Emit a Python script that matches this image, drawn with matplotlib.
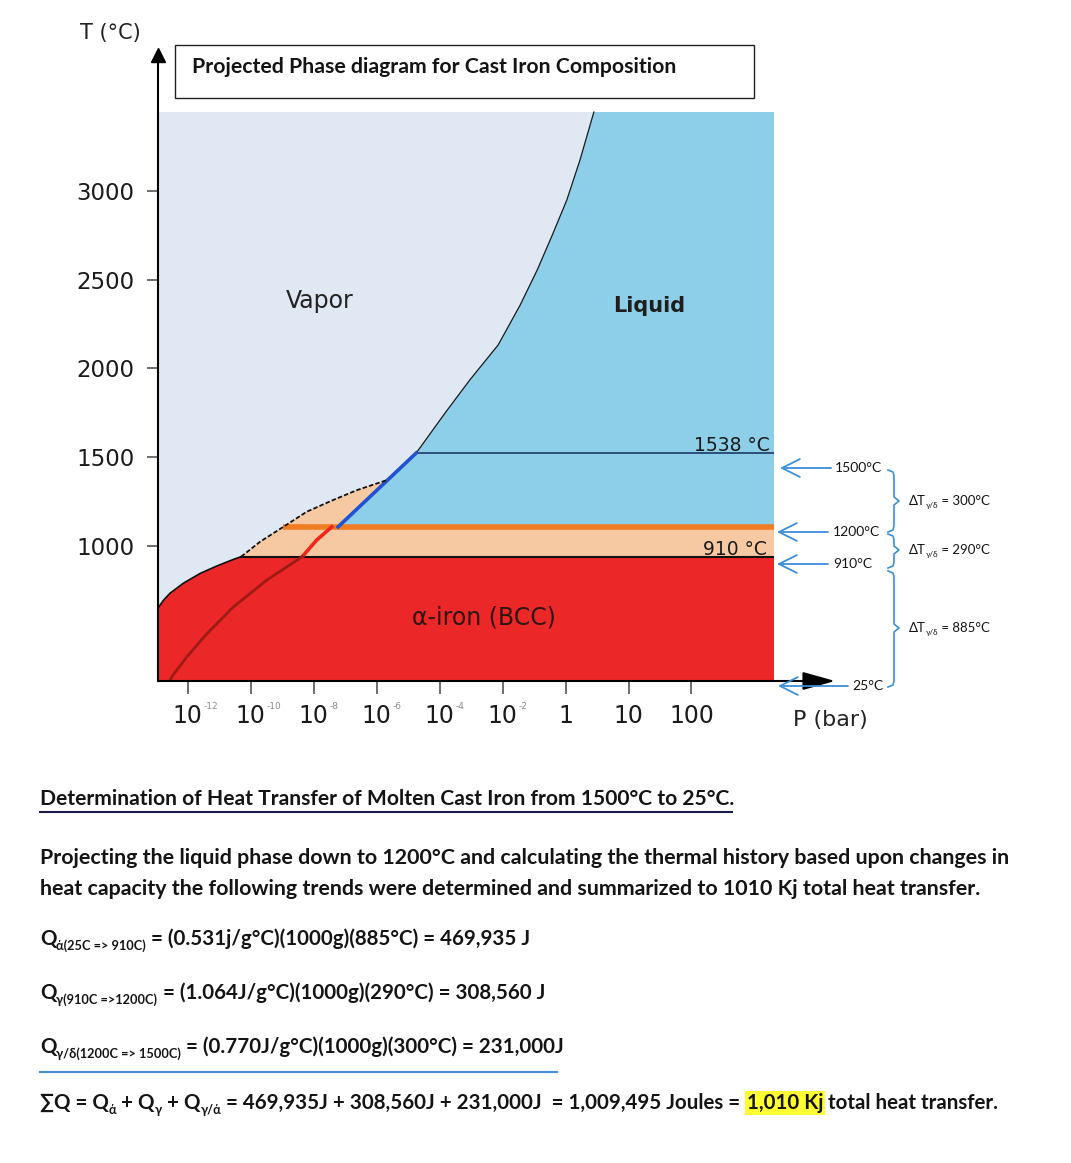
import matplotlib

matplotlib.use("Agg")
import matplotlib.pyplot as plt
from matplotlib.patches import Rectangle

# pressure axis: one unit per labelled tick (the ticks are evenly spaced on the drawing)
p_bases = ["10", "10", "10", "10", "10", "10", "1", "10", "100"]
p_exps = ["-12", "-10", "-8", "-6", "-4", "-2", "", "", ""]
t_ticks = [1000, 1500, 2000, 2500, 3000]

# phase boundaries (x = pressure tick position, y = T in the axis units)
vap_liq_p = [3.63, 4.10, 4.48, 4.93, 5.28, 5.55, 5.79, 6.02, 6.23, 6.45]
vap_liq_t = [1524, 1755, 1935, 2132, 2357, 2554, 2751, 2948, 3174, 3444]

delta_liq_p = [3.63, 2.39]
delta_liq_t = [1524, 1108]

vap_gamma_p = [0.85, 1.15, 1.52, 1.89, 2.31, 2.69, 3.17]
vap_gamma_t = [940, 1024, 1108, 1193, 1259, 1315, 1372]

vap_alpha_p = [-0.47, -0.38, -0.28, -0.07, 0.20, 0.46, 0.73, 0.85]
vap_alpha_t = [651, 696, 734, 790, 846, 887, 925, 940]

gamma_alpha_p = [2.29, 2.05, 1.82]
gamma_alpha_t = [1108, 1034, 940]

alpha_inner_p = [1.82, 1.26, 0.73, 0.31, -0.01, -0.25, -0.28]
alpha_inner_t = [940, 809, 658, 508, 377, 264, 240]

t_melt = 1524      # line labelled 1538 °C
t_upper = 1108     # orange line (1200°C marker)
t_alpha = 940      # line labelled 910 °C

p_min, p_max = -0.47, 9.31
t_min, t_top, t_axis_top = 240, 3444, 3765

# right-hand annotations
marker_labels = ["1500°C", "1200°C", "910°C", "25°C"]
delta_labels = [" = 300°C", " = 290°C", " = 885°C"]

# text block underneath
title = "Projected Phase diagram for Cast Iron Composition"
heading = "Determination of Heat Transfer of Molten Cast Iron from 1500°C to 25°C."
para = ["Projecting the liquid phase down to 1200°C and calculating the thermal history based upon changes in",
        "heat capacity the following trends were determined and summarized to 1010 Kj total heat transfer."]
q_lines = [
    [("Q", "n"), ("ά(25C => 910C)", "sub"), (" = (0.531j/g°C)(1000g)(885°C) = 469,935 J", "n")],
    [("Q", "n"), ("γ(910C =>1200C)", "sub"), (" = (1.064J/g°C)(1000g)(290°C) = 308,560 J", "n")],
    [("Q", "n"), ("γ/δ(1200C => 1500C)", "sub"), (" = (0.770J/g°C)(1000g)(300°C) = 231,000J", "n")],
]
sum_line = [("∑Q = Q", "n"), ("ά", "sub"), (" + Q", "n"), ("γ", "sub"), (" + Q", "n"), ("γ/ά", "sub"),
            (" = 469,935J + 308,560J + 231,000J  = 1,009,495 Joules =", "n"), ("1,010 Kj", "hl"),
            (" total heat transfer.", "n")]

VAPOR = "#dfe8f3"
LIQUID = "#8dcfe9"
GAMMA = "#f6c9a2"
ALPHA = "#ec2727"
ARROW_BLUE = "#3b8fd9"
INK = "#141414"
BODY_FONT = ["Lato", "DejaVu Sans"]

W, H = 1071, 1163
fig = plt.figure(figsize=(W / 100, H / 100), dpi=100)

# diagram axes, placed in pixels of the page
x0, x1, y_top, y_bot = 158, 774, 55, 681
ax = fig.add_axes([x0 / W, 1 - y_bot / H, (x1 - x0) / W, (y_bot - y_top) / H])
ax.set_xlim(p_min, p_max)
ax.set_ylim(t_min, t_axis_top)

ax.fill([p_min, p_max, p_max, p_min], [t_min, t_min, t_top, t_top], color=LIQUID, lw=0)
ax.fill([p_min, p_min] + vap_liq_p[::-1] + [delta_liq_p[1], delta_liq_p[1]],
        [t_min, t_top] + vap_liq_t[::-1] + [delta_liq_t[1], t_min], color=VAPOR, lw=0)
ax.fill(vap_gamma_p + [delta_liq_p[1], p_max, p_max],
        vap_gamma_t + [t_upper, t_upper, t_alpha], color=GAMMA, lw=0)
ax.fill([p_min] + vap_alpha_p + [p_max, p_max],
        [t_min] + vap_alpha_t + [t_alpha, t_min], color=ALPHA, lw=0)

ax.plot(vap_liq_p, vap_liq_t, color="#1a1a1a", lw=0.9)
ax.plot([delta_liq_p[0], p_max], [t_melt, t_melt], color="#1d3a68", lw=1.2)
ax.plot([vap_gamma_p[2], p_max], [t_upper, t_upper], color="#f07d22", lw=4.0, solid_capstyle="butt")
ax.plot([vap_alpha_p[-1], p_max], [t_alpha, t_alpha], color="#111111", lw=1.5)
ax.plot(delta_liq_p, delta_liq_t, color="#2152d2", lw=2.6)
ax.plot(gamma_alpha_p, gamma_alpha_t, color="#f0261c", lw=2.6)
ax.plot(alpha_inner_p, alpha_inner_t, color="#9e1b15", lw=2.0)
ax.plot(vap_gamma_p, vap_gamma_t, color="#111111", lw=1.3, ls=(0, (2.5, 1.2)))
ax.plot(vap_alpha_p, vap_alpha_t, color="#111111", lw=1.2)

ax.text(2.09, 2380, "Vapor", fontsize=17, ha="center", va="center", color="#222222")
ax.text(7.33, 2351, "Liquid", fontsize=15, fontweight="bold", ha="center", va="center", color="#1e1e1e")
ax.text(9.25, t_melt + 12, "1538 °C", fontsize=13.5, ha="right", va="baseline", color="#1a1a1a")
ax.text(9.19, t_alpha + 12, "910 °C", fontsize=13.5, ha="right", va="baseline", color="#1a1a1a")
ax.text(4.71, 595, "α-iron (BCC)", fontsize=17, ha="center", va="center", color="#2e1414")

for side in ["top", "right", "bottom"]:
    ax.spines[side].set_visible(False)
ax.spines["left"].set_linewidth(1.5)
ax.plot(0, 1, "^", color="black", ms=10, transform=ax.transAxes, clip_on=False)
ax.annotate("", xy=(10.28, t_min), xytext=(p_min, t_min), annotation_clip=False,
            arrowprops=dict(arrowstyle="-|>,head_length=1.0,head_width=0.28", mutation_scale=20,
                            color="black", lw=1.5, shrinkA=0, shrinkB=0))

ax.set_yticks(t_ticks)
ax.set_yticklabels([str(t) for t in t_ticks])
ax.set_xticks(range(len(p_bases)))
ax.set_xticklabels([])
ax.tick_params(axis="y", length=8, width=1.2, color="#555555", labelsize=16.5, pad=9, labelcolor="#1a1a1a")
ax.tick_params(axis="x", length=9, width=1.2, color="#555555")
xlab = ax.get_xaxis_transform()
for i, (base, exp) in enumerate(zip(p_bases, p_exps)):
    ax.text(i, -0.056, base, fontsize=17, ha="center", va="center", color="#1a1a1a", transform=xlab)
    if exp:
        ax.text(i + 0.25, -0.041, exp, fontsize=6.5, ha="left", va="center", color="#8a8a8a",
                transform=xlab)

# page overlay, in pixel coordinates (y downwards)
page = fig.add_axes([0, 0, 1, 1])
page.set_xlim(0, W)
page.set_ylim(H, 0)
page.axis("off")


def text_run(x, y, pieces, size, weight="bold"):
    prev = None
    for text, kind in pieces:
        fs = size * 0.62 if kind == "sub" else size
        dy = -0.25 * size if kind == "sub" else 0
        dx = 0.3 * size if kind == "hl" else 0
        kw = dict(fontsize=fs, fontweight=weight, family=BODY_FONT, va="baseline", ha="left",
                  color=INK, textcoords="offset points", xytext=(dx, dy))
        if kind == "hl":
            kw["bbox"] = dict(facecolor="#ffff33", edgecolor="none", pad=1.5)
        if prev is None:
            prev = page.annotate(text, xy=(x, y), **kw)
        else:
            prev = page.annotate(text, xy=(1, y), xycoords=(prev, "data"), **kw)
    return prev


page.text(80, 33, "T (°C)", fontsize=15, va="center", color="#222222")
page.text(793, 720, "P (bar)", fontsize=16, va="center", color="#222222")

page.add_patch(Rectangle((175, 45), 579, 53, facecolor="white", edgecolor="#222222", lw=1.0))
page.text(192, 67, title, fontsize=15.3, fontweight="bold", family=BODY_FONT, va="center", color=INK)

# arrows + labels on the right
arrow_rows = [(468, 780, 831, 835), (532, 777, 828, 833), (564, 777, 828, 833), (686, 778, 848, 852)]
for label, (y, tip, tail, tx) in zip(marker_labels, arrow_rows):
    page.annotate("", xy=(tip, y), xytext=(tail, y),
                  arrowprops=dict(arrowstyle="->,head_length=0.8,head_width=0.4", mutation_scale=16,
                                  color=ARROW_BLUE, lw=1.3, shrinkA=0, shrinkB=0))
    page.text(tx, y, label, fontsize=10, family=BODY_FONT, va="center", color=INK)

braces = [(470, 532, 501), (534, 568, 550), (571, 687, 628)]
for label, (b0, b1, bm) in zip(delta_labels, braces):
    bx = 894
    page.plot([bx - 6, bx - 1, bx, bx, bx + 5, bx, bx, bx - 1, bx - 6],
              [b0, b0 + 2, b0 + 6, bm - 4, bm, bm + 4, b1 - 6, b1 - 2, b1], color=ARROW_BLUE, lw=1.2)
    text_run(909, bm + 4, [("ΔT", "n"), ("γ/δ", "sub"), (label, "n")], 9.5, weight="normal")

# text block
page.text(40, 805, heading, fontsize=15.1, fontweight="bold", family=BODY_FONT, va="baseline", color=INK)
page.plot([40, 732], [812, 812], color="#1b1b46", lw=1.5)
for i, line in enumerate(para):
    page.text(40, 864 + 31 * i, line, fontsize=15.4, fontweight="bold", family=BODY_FONT,
              va="baseline", color=INK)
for i, pieces in enumerate(q_lines):
    text_run(40, 945 + 54 * i, pieces, 14.8)
page.plot([40, 557], [1072, 1072], color="#4b8fd2", lw=1.6)
text_run(40, 1109, sum_line, 14.8)

fig.savefig("out.png", dpi=100)
